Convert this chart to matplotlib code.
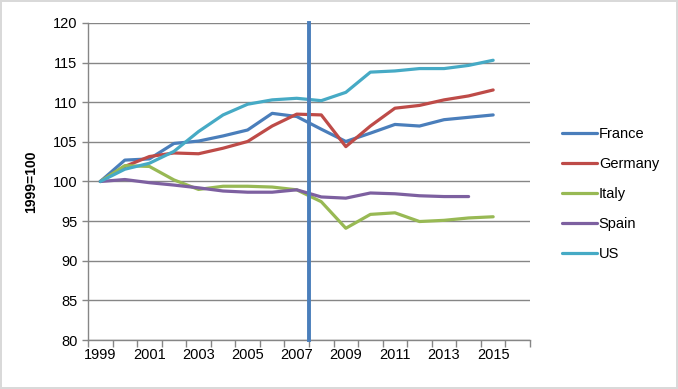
import matplotlib
matplotlib.use('Agg')
import matplotlib.pyplot as plt
import numpy as np

plt.rcParams['font.family'] = ['Liberation Sans', 'DejaVu Sans']
plt.rcParams['font.size'] = 10

years = np.arange(1999, 2016)
france  = [100, 102.7, 102.85, 104.8, 105.1, 105.75, 106.5, 108.6, 108.2, 106.6,
           105.05, 106.1, 107.2, 107.0, 107.8, 108.1, 108.4]
germany = [100, 101.9, 103.15, 103.6, 103.5, 104.2, 105.05, 107.0, 108.5, 108.4,
           104.4, 107.0, 109.25, 109.6, 110.3, 110.8, 111.55]
italy   = [100, 102.0, 101.9, 100.2, 99.0, 99.4, 99.4, 99.3, 98.95, 97.45,
           94.1, 95.85, 96.05, 94.95, 95.1, 95.4, 95.55]
spain   = [100, 100.25, 99.85, 99.55, 99.2, 98.8, 98.65, 98.65, 98.95, 98.05,
           97.9, 98.55, 98.45, 98.2, 98.1, 98.1]          # ends 2014
us      = [100, 101.55, 102.3, 103.8, 106.3, 108.4, 109.75, 110.3, 110.5, 110.2,
           111.25, 113.8, 113.95, 114.25, 114.25, 114.65, 115.3]

series = [('France', france, '#4A7EBB'),
          ('Germany', germany, '#BE4B48'),
          ('Italy', italy, '#98B954'),
          ('Spain', spain, '#7D60A0'),
          ('US', us, '#46AAC5')]

CRISIS_X = 2007.5

fig = plt.figure(figsize=(6.78, 3.89), dpi=100)
fig.patch.set_edgecolor('#D9D9D9')
fig.patch.set_linewidth(1.5)
ax = fig.add_axes([88/678, 1 - 340/389, (530 - 88)/678, (340 - 23)/389])

for name, vals, col in series:
    ax.plot(years[:len(vals)], vals, color=col, linewidth=2.3, label=name,
            solid_capstyle='round', zorder=3)

ax.plot([CRISIS_X, CRISIS_X], [80, 120], color='#4A7EBB', linewidth=2.8,
        zorder=4, clip_on=False)

ax.set_xlim(1998.5, 2016.5)
ax.set_ylim(80, 120)
ax.set_yticks(np.arange(80, 121, 5))
ax.set_xticks(np.arange(1999, 2016, 2))
ax.set_xticks(np.arange(1998.5, 2017, 1), minor=True)
ax.tick_params(axis='x', which='major', length=0, pad=6, labelsize=10.5)
ax.tick_params(axis='x', which='minor', length=5, color='#868686', width=1)
ax.tick_params(axis='y', length=4, color='#868686', width=1, labelsize=10.5)

ax.grid(axis='y', color='#868686', linewidth=1)
ax.set_axisbelow(True)
for s in ['top', 'right']:
    ax.spines[s].set_visible(False)
for s in ['left', 'bottom']:
    ax.spines[s].set_color('#868686')
    ax.spines[s].set_linewidth(1)

ax.set_ylabel('1999=100', fontweight='bold', labelpad=11)

fig.legend(loc='upper left', bbox_to_anchor=(555/678, 1 - 120/389),
           frameon=False, borderpad=0, handlelength=2.4, handletextpad=0.1,
           labelspacing=1.1, fontsize=10.5)

plt.savefig('out.png', dpi=100)
